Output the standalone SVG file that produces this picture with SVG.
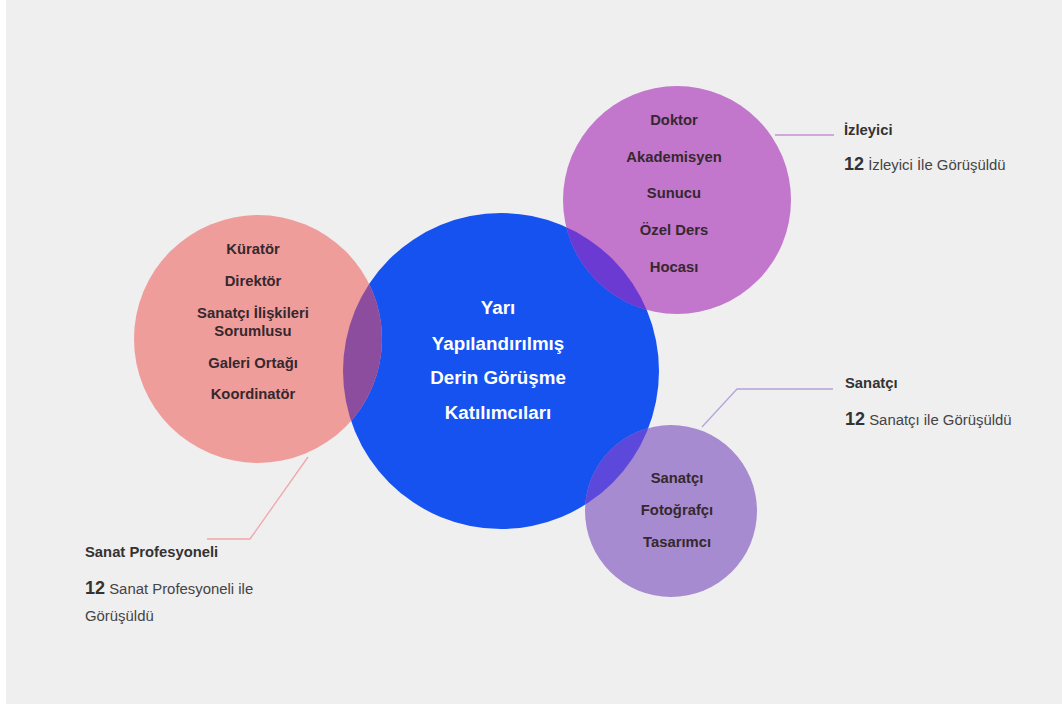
<svg xmlns="http://www.w3.org/2000/svg" width="1062" height="705" viewBox="0 0 1062 705">
<style>
.lbl{font-family:"Liberation Sans",Arial,sans-serif;font-weight:bold;font-size:14.8px;fill:#35282e;text-anchor:middle}
.ctr{font-family:"Liberation Sans",Arial,sans-serif;font-weight:bold;font-size:18.8px;fill:#ffffff;text-anchor:middle}
.ttl{font-family:"Liberation Sans",Arial,sans-serif;font-weight:bold;font-size:14.8px;fill:#333333}
.cnt{font-family:"Liberation Sans",Arial,sans-serif;font-size:14.9px;fill:#444444}
.num{font-weight:bold;font-size:18px;fill:#333333}
.con{fill:none;stroke-width:1.3}
</style>
<defs>
<clipPath id="clipBlue"><circle cx="501" cy="371" r="158"/></clipPath>
</defs>
<rect x="0" y="0" width="1062" height="705" fill="#ffffff"/>
<rect x="6" y="0" width="1056" height="704" fill="#efefef"/>

<g id="connectors">
<polyline class="con" stroke="#c98fd4" points="775,135 834,135"/>
<polyline class="con" stroke="#b6a3db" points="702,427 737,389 833,389"/>
<polyline class="con" stroke="#f0a6aa" points="308,457 250,539 207,539"/>
</g>

<g id="center">
<circle cx="501" cy="371" r="158" fill="#1652f0"/>
</g>

<g id="sanat-profesyoneli">
<circle cx="258" cy="339" r="124" fill="#ef9d9b"/>
<circle cx="258" cy="339" r="124" fill="#8c4d9f" clip-path="url(#clipBlue)"/>
<text class="lbl" x="253" y="254">Küratör</text>
<text class="lbl" x="253" y="286">Direktör</text>
<text class="lbl" x="253" y="318">Sanatçı İlişkileri</text>
<text class="lbl" x="253" y="336">Sorumlusu</text>
<text class="lbl" x="253" y="368">Galeri Ortağı</text>
<text class="lbl" x="253" y="399">Koordinatör</text>
</g>

<g id="izleyici">
<circle cx="677" cy="200" r="114" fill="#c276cc"/>
<circle cx="677" cy="200" r="114" fill="#6a3ad3" clip-path="url(#clipBlue)"/>
<text class="lbl" x="674" y="125">Doktor</text>
<text class="lbl" x="674" y="162">Akademisyen</text>
<text class="lbl" x="674" y="198">Sunucu</text>
<text class="lbl" x="674" y="235">Özel Ders</text>
<text class="lbl" x="674" y="272">Hocası</text>
</g>

<g id="sanatci">
<circle cx="671" cy="511" r="86" fill="#a68bd0"/>
<circle cx="671" cy="511" r="86" fill="#5c49db" clip-path="url(#clipBlue)"/>
<text class="lbl" x="677" y="483">Sanatçı</text>
<text class="lbl" x="677" y="515">Fotoğrafçı</text>
<text class="lbl" x="677" y="547">Tasarımcı</text>
</g>

<g id="center-label">
<text class="ctr" x="498" y="314">Yarı</text>
<text class="ctr" x="498" y="350">Yapılandırılmış</text>
<text class="ctr" x="498" y="384">Derin Görüşme</text>
<text class="ctr" x="498" y="419">Katılımcıları</text>
</g>

<g id="legend-izleyici">
<text class="ttl" x="844" y="135">İzleyici</text>
<text class="cnt" x="844" y="170"><tspan class="num">12</tspan> İzleyici İle Görüşüldü</text>
</g>

<g id="legend-sanatci">
<text class="ttl" x="845" y="388">Sanatçı</text>
<text class="cnt" x="845" y="425"><tspan class="num">12</tspan> Sanatçı ile Görüşüldü</text>
</g>

<g id="legend-sanat-profesyoneli">
<text class="ttl" x="85" y="557">Sanat Profesyoneli</text>
<text class="cnt" x="85" y="594"><tspan class="num">12</tspan> Sanat Profesyoneli ile</text>
<text class="cnt" x="85" y="621">Görüşüldü</text>
</g>
</svg>
